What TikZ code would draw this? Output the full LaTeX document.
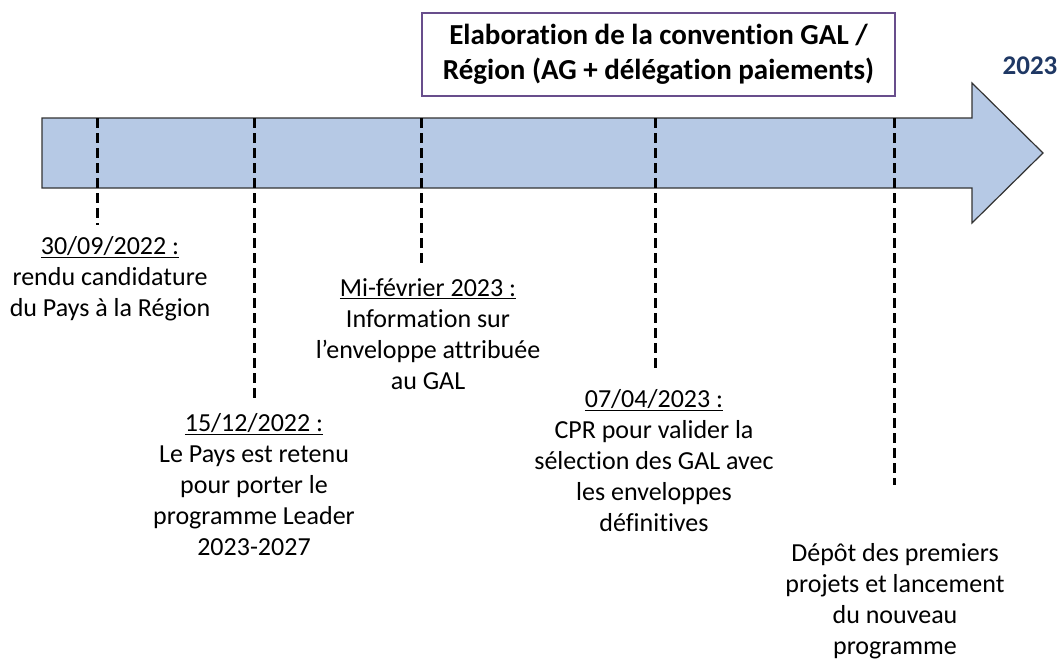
\documentclass[tikz,border=0pt]{standalone}
\usepackage{fontspec}
\setmainfont{Carlito}[Ligatures={NoCommon}]
\definecolor{shaftblue}{RGB}{182,201,229}
\definecolor{boxpurple}{RGB}{104,78,140}
\definecolor{yearblue}{RGB}{31,56,100}
\begin{document}
\begin{tikzpicture}[x=1pt,y=-1pt,
  evtext/.style={align=center,inner sep=0pt,font=\fontsize{26}{31}\selectfont},
  datedash/.style={line width=3pt,dash pattern=on 10pt off 5pt,black},
  titlebox/.style={draw=boxpurple,line width=2pt,fill=white,align=center,
    minimum width=473pt,minimum height=83pt,inner sep=0pt,
    font=\fontsize{29}{35}\selectfont\bfseries},
  yearlabel/.style={font=\fontsize{27}{32}\selectfont\bfseries,text=yearblue,inner sep=0pt}]
\useasboundingbox (0,0) rectangle (1061,661);
% timeline arrow
\draw[fill=shaftblue,draw=black!80,line width=1.2pt,line join=miter]
  (42,118) -- (972,118) -- (972,83) -- (1043,153) -- (972,223) -- (972,188) -- (42,188) -- cycle;
% title box and year
\node[titlebox] (conv) at (658.5,54.5) {Elaboration de la convention GAL /\\Région (AG + délégation paiements)};
\node[yearlabel] (year) at (1030,66) {2023};
% dash coordinates
\coordinate (t1) at (97,118);  \coordinate (b1) at (97,225);
\coordinate (t2) at (254,118); \coordinate (b2) at (254,398);
\coordinate (t3) at (421,118); \coordinate (b3) at (421,265);
\coordinate (t4) at (655,118); \coordinate (b4) at (655,370);
\coordinate (t5) at (894,118); \coordinate (b5) at (894,485);
\foreach \i in {1,...,5} {\draw[datedash] (t\i) -- (b\i);}
% event texts
\node[evtext] (e1) at (110,279) {\underline{30/09/2022 :}\\rendu candidature\\du Pays à la Région};
\node[evtext] (e2) at (254,485) {\underline{15/12/2022 :}\\Le Pays est retenu\\pour porter le\\programme Leader\\2023-2027};
\node[evtext] (e3) at (428,334) {\underline{Mi-février 2023 :}\\Information sur\\l’enveloppe attribuée\\au GAL};
\node[evtext] (e4) at (654,461) {\underline{07/04/2023 :}\\CPR pour valider la\\sélection des GAL avec\\les enveloppes\\définitives};
\node[evtext] (e5) at (895,601) {Dépôt des premiers\\projets et lancement\\du nouveau\\programme};
\end{tikzpicture}
\end{document}
